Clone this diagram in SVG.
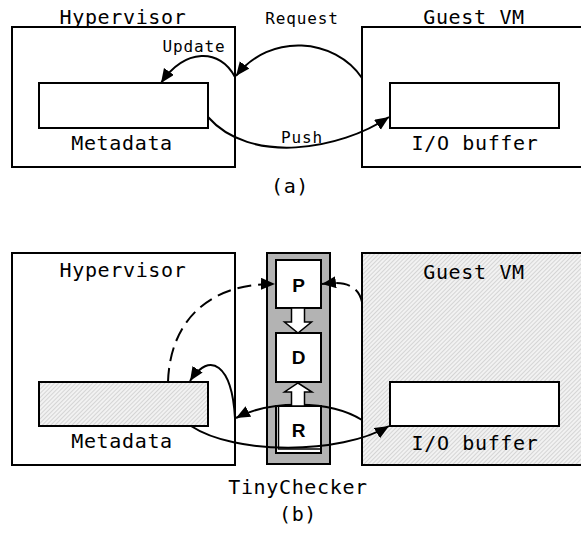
<svg xmlns="http://www.w3.org/2000/svg" width="581" height="535" viewBox="0 0 581 535">
<style>
.box{fill:#fff;stroke:#000;stroke-width:2}
.hatch{fill:url(#hatch);stroke:#000;stroke-width:2}
.lbl{font-family:"DejaVu Sans Mono","Liberation Mono",monospace;font-size:20px;letter-spacing:0.65px;text-anchor:middle;fill:#000}
.sm{font-family:"DejaVu Sans Mono","Liberation Mono",monospace;font-size:16px;letter-spacing:0.9px;text-anchor:middle;fill:#000}
.bold{font-family:"Liberation Sans",Arial,sans-serif;font-weight:bold;font-size:19px;text-anchor:middle;fill:#000}
.con{fill:none;stroke:#000;stroke-width:2;marker-end:url(#ah)}
.dash{stroke-dasharray:14,7}
.block{fill:#fff;stroke:#000;stroke-width:1.5}
</style>
<defs>
<marker id="ah" markerUnits="userSpaceOnUse" markerWidth="16" markerHeight="14" refX="14" refY="6" orient="auto">
<path d="M0,0 L14,6 L0,12 Z" fill="#000"/>
</marker>
<pattern id="hatch" width="3" height="3" patternUnits="userSpaceOnUse" patternTransform="rotate(45)">
<rect width="3" height="3" fill="#f2f2f2"/>
<line x1="0" y1="0" x2="0" y2="3" stroke="#b8b8b8" stroke-width="1"/>
</pattern>
</defs>

<!-- (a) -->
<g id="a-hypervisor">
<rect class="box" x="12" y="27" width="223" height="140"/>
<text class="lbl" x="123" y="24">Hypervisor</text>
</g>
<g id="a-metadata">
<rect class="box" x="39" y="83" width="169" height="45"/>
<text class="lbl" x="122" y="150">Metadata</text>
</g>
<g id="a-guest">
<rect class="box" x="362" y="27" width="230" height="140"/>
<text class="lbl" x="474" y="24">Guest VM</text>
</g>
<g id="a-iobuffer">
<rect class="box" x="390" y="83" width="169" height="45"/>
<text class="lbl" x="475" y="150">I/O buffer</text>
</g>
<text class="lbl" x="290" y="193">(a)</text>

<!-- (b) -->
<g id="b-hypervisor">
<rect class="box" x="12" y="253" width="223" height="212"/>
<text class="lbl" x="123" y="277">Hypervisor</text>
</g>
<g id="b-metadata">
<rect class="hatch" x="39" y="382" width="169" height="44"/>
<text class="lbl" x="122" y="448">Metadata</text>
</g>
<g id="b-guest">
<rect class="hatch" x="362" y="253" width="230" height="212"/>
<text class="lbl" x="474" y="279">Guest VM</text>
</g>
<g id="b-iobuffer">
<rect class="box" x="390" y="382" width="169" height="44"/>
<text class="lbl" x="475" y="450">I/O buffer</text>
</g>
<g id="tinychecker">
<rect x="267" y="253" width="63" height="211" fill="#b3b3b3" stroke="#000" stroke-width="2"/>
<text class="lbl" x="298" y="494">TinyChecker</text>
</g>
<g id="node-p">
<rect class="box" x="276" y="260" width="45" height="48"/>
<text class="bold" x="298.5" y="291.5">P</text>
</g>
<g id="node-d">
<rect class="box" x="276" y="333" width="45" height="49"/>
<text class="bold" x="298.5" y="364">D</text>
</g>
<g id="node-r">
<rect class="box" x="276" y="406" width="45" height="47"/>
<rect fill="none" stroke="#000" stroke-width="1.5" x="278.5" y="406" width="42.5" height="43"/>
<text class="bold" x="298.5" y="436.5">R</text>
</g>
<text class="lbl" x="298" y="521">(b)</text>

<g id="connectors">
<!-- (a) -->
<path class="con" d="M362,78 C335,38 270,32 236,76"/>
<text class="sm" x="302" y="24">Request</text>
<path class="con" d="M235,77 C220,48 185,48 161,83"/>
<text class="sm" x="194" y="52">Update</text>
<path class="con" d="M208,117 C250,165 340,150 389,117"/>
<text class="sm" x="302" y="143">Push</text>
<!-- (b) -->
<path class="con dash" d="M168,382 C170,320 210,283 275,284"/>
<path class="con dash" d="M362,302 C358,285 345,281 322,284"/>
<path class="con" d="M235,418 C232,365 210,350 190,381"/>
<path class="con" d="M362,420 C330,400 270,400 236,418"/>
<path class="con" d="M191,426 C235,455 340,455 389,426"/>
<!-- block arrows -->
<path class="block" d="M291.5,308 L304.5,308 L304.5,322 L311.5,322 L298,333 L284.5,322 L291.5,322 Z"/>
<path class="block" d="M291.5,406 L304.5,406 L304.5,392 L312,392 L298,383 L284.5,392 L291.5,392 Z"/>
</g>
</svg>
